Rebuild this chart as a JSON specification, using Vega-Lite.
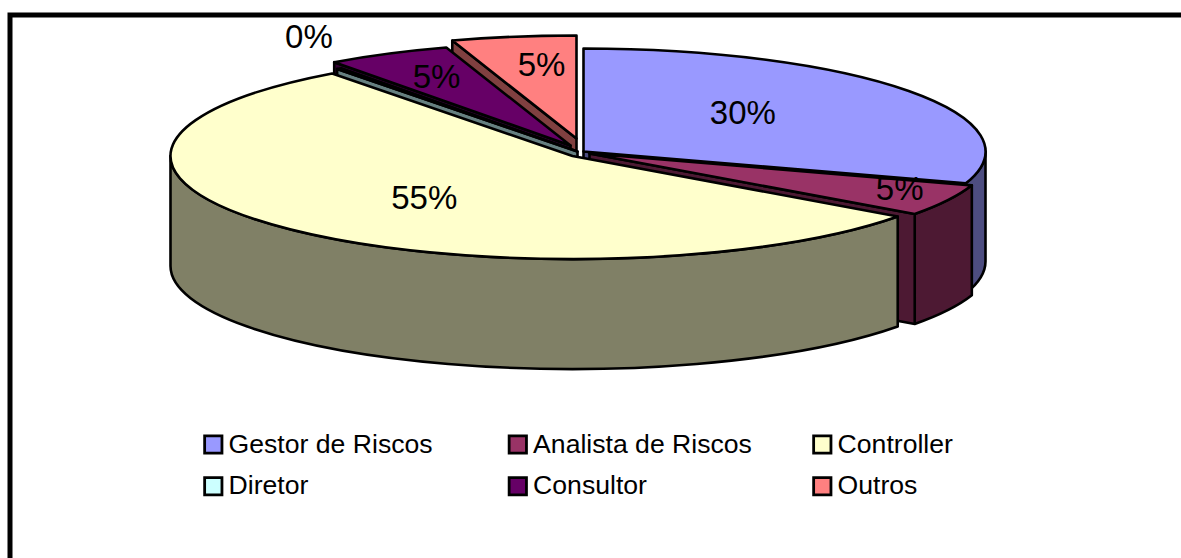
{
"$schema":"https://vega.github.io/schema/vega-lite/v6.json",
"width":1300,"height":600,
"autosize":{"type":"none"},
"padding":{"left":10,"top":15,"right":0,"bottom":0},
"background":"#ffffff",
"config":{"view":{"stroke":"#000000","strokeWidth":5},"font":"Liberation Sans"},
"data":{"values":[
{"role":"Gestor de Riscos","share":0.30},
{"role":"Analista de Riscos","share":0.05},
{"role":"Controller","share":0.548},
{"role":"Diretor","share":0.002},
{"role":"Consultor","share":0.05},
{"role":"Outros","share":0.05}
]},
"transform":[
{"window":[{"op":"sum","field":"share","as":"a1"}]},
{"calculate":"datum.a1-datum.share","as":"a0"},
{"calculate":"2*PI*datum.a0","as":"t0"},
{"calculate":"2*PI*datum.a1","as":"t1"},
{"calculate":"(datum.t0+datum.t1)/2","as":"m"},
{"calculate":"{'Gestor de Riscos':5,'Analista de Riscos':11,'Controller':-6,'Diretor':-1,'Consultor':-8,'Outros':-2}[datum.role]","as":"ox"},
{"calculate":"{'Gestor de Riscos':-2,'Analista de Riscos':0,'Controller':2.5,'Diretor':-2,'Consultor':-8,'Outros':-15}[datum.role]","as":"oy"},
{"calculate":"round(100*(datum.ox+402*sin(datum.t0)))/100","as":"x0"},
{"calculate":"round(100*(datum.oy-103*cos(datum.t0)))/100","as":"y0"},
{"calculate":"round(100*(datum.ox+402*sin(datum.t1)))/100","as":"x1"},
{"calculate":"round(100*(datum.oy-103*cos(datum.t1)))/100","as":"y1"},
{"calculate":"max(datum.t0,PI/2)","as":"s0"},
{"calculate":"min(datum.t1,3*PI/2)","as":"s1"},
{"calculate":"round(100*(datum.ox+402*sin(datum.s0)))/100","as":"wx0"},
{"calculate":"round(100*(datum.oy-103*cos(datum.s0)))/100","as":"wy0"},
{"calculate":"round(100*(datum.ox+402*sin(datum.s1)))/100","as":"wx1"},
{"calculate":"round(100*(datum.oy-103*cos(datum.s1)))/100","as":"wy1"},
{"calculate":"'M'+datum.ox+','+datum.oy+'L'+datum.x0+','+datum.y0+'A402,103 0 '+(datum.t1-datum.t0>PI?1:0)+' 1 '+datum.x1+','+datum.y1+'Z'","as":"topPath"},
{"calculate":"(sin(datum.t0)<-0.000001?'M'+datum.ox+','+datum.oy+'L'+datum.x0+','+datum.y0+'L'+datum.x0+','+(datum.y0+110)+'L'+datum.ox+','+(datum.oy+110)+'Z':'')+(sin(datum.t1)>0.000001?'M'+datum.ox+','+datum.oy+'L'+datum.x1+','+datum.y1+'L'+datum.x1+','+(datum.y1+110)+'L'+datum.ox+','+(datum.oy+110)+'Z':'')+(datum.s1>datum.s0?'M'+datum.wx0+','+datum.wy0+'A402,103 0 0 1 '+datum.wx1+','+datum.wy1+'L'+datum.wx1+','+(datum.wy1+110)+'A402,103 0 0 0 '+datum.wx0+','+(datum.wy0+110)+'Z':'')","as":"sidePath"},
{"calculate":"{'Gestor de Riscos':0.49,'Analista de Riscos':0.866,'Controller':0.525,'Diretor':1.127,'Consultor':0.734,'Outros':0.557}[datum.role]","as":"fx"},
{"calculate":"{'Gestor de Riscos':0.62,'Analista de Riscos':0.79,'Controller':0.58,'Diretor':1.373,'Consultor':0.74,'Outros':0.708}[datum.role]","as":"fy"},
{"calculate":"datum.ox+datum.fx*402*sin(datum.m)","as":"lx"},
{"calculate":"datum.oy-datum.fy*103*cos(datum.m)","as":"ly"}
],
"layer":[
{
"transform":[
{"fold":["sidePath","topPath"],"as":["part","path"]},
{"calculate":"datum.part=='sidePath'?datum.role+' (lateral)':datum.role","as":"series"},
{"calculate":"2*{'Outros':0,'Consultor':1,'Diretor':2,'Gestor de Riscos':3,'Analista de Riscos':4,'Controller':5}[datum.role]+(datum.part=='topPath'?1:0)","as":"paint"}
],
"mark":{"type":"point","filled":true,"size":4,"opacity":1,"stroke":"#000000","strokeWidth":2.6,"strokeJoin":"round"},
"encoding":{
"x":{"datum":0,"type":"quantitative","scale":{"domain":[-568.5,731.5],"nice":false,"zero":false},"axis":null},
"y":{"datum":0,"type":"quantitative","scale":{"domain":[-138.5,461.5],"nice":false,"zero":false,"reverse":true},"axis":null},
"shape":{"field":"path","type":"nominal","scale":null,"legend":null},
"order":{"field":"paint","type":"quantitative"},
"fill":{"field":"series","type":"nominal",
"scale":{"domain":["Gestor de Riscos","Analista de Riscos","Controller","Diretor","Consultor","Outros","Gestor de Riscos (lateral)","Analista de Riscos (lateral)","Controller (lateral)","Diretor (lateral)","Consultor (lateral)","Outros (lateral)"],
"range":["#9999FF","#993366","#FFFFCC","#CCFFFF","#660066","#FF8080","#4D4D80","#4D1933","#808066","#668080","#330033","#804040"]},
"legend":{"title":null,"orient":"none","direction":"horizontal","legendX":190,"legendY":416,"columns":3,"gridAlign":"all","columnPadding":55.5,"rowPadding":13,
"values":["Gestor de Riscos","Analista de Riscos","Controller","Diretor","Consultor","Outros"],
"symbolType":"square","symbolSize":300,"symbolStrokeColor":"#000000","symbolStrokeWidth":2.8,"symbolOpacity":1,"labelFont":"Liberation Sans","labelFontSize":26.6,"labelColor":"#000000","labelOffset":2,"labelLimit":400}}
}
},
{
"mark":{"type":"text","font":"Liberation Sans","fontSize":33,"align":"center","baseline":"middle","color":"#000000"},
"encoding":{
"x":{"field":"lx","type":"quantitative"},
"y":{"field":"ly","type":"quantitative"},
"text":{"field":"share","type":"quantitative","format":".0%"}
}
}
]
}
